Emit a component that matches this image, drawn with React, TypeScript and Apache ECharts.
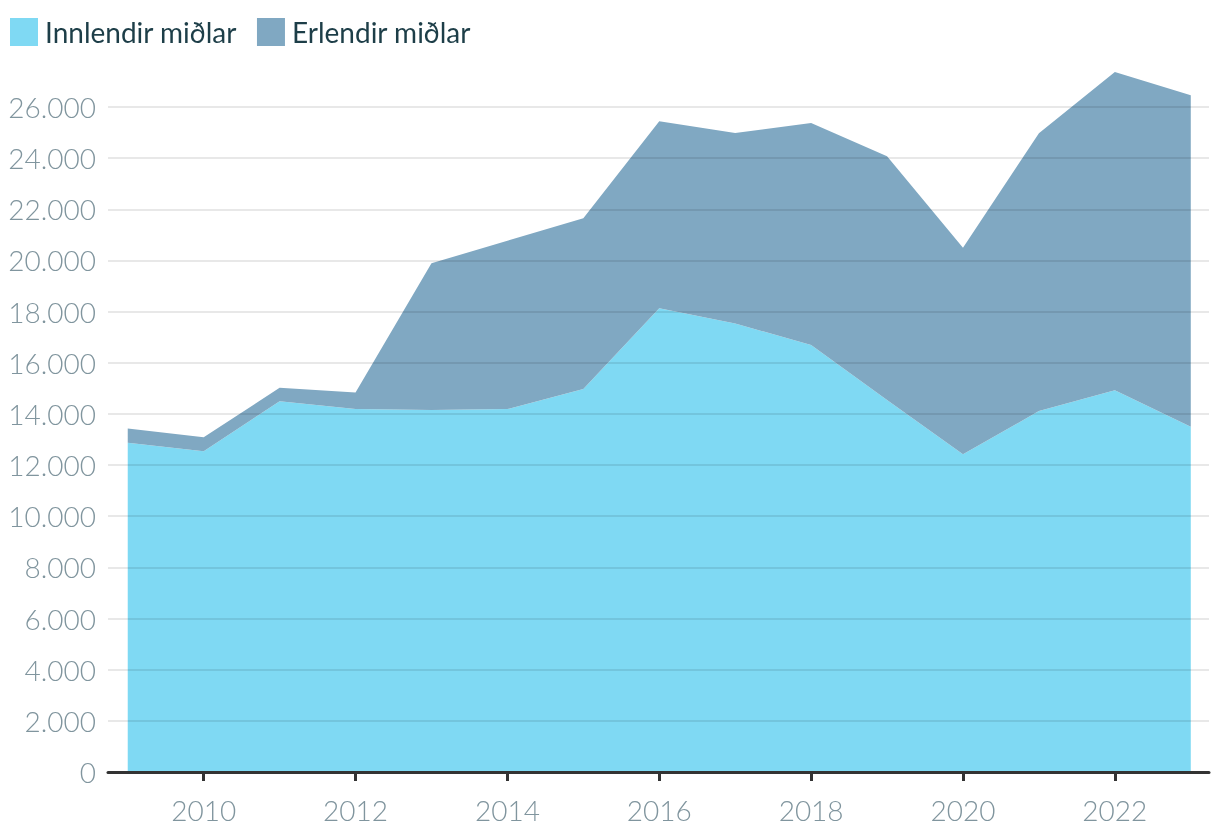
import React, { useEffect, useRef } from "react";
import * as echarts from "echarts";

const years = [2009, 2010, 2011, 2012, 2013, 2014, 2015, 2016, 2017, 2018, 2019, 2020, 2021, 2022, 2023];
const innlendir = [12870, 12540, 14500, 14190, 14150, 14190, 14970, 18130, 17540, 16690, 14540, 12420, 14110, 14930, 13500];
const erlendir = [560, 550, 520, 650, 5740, 6580, 6680, 7310, 7440, 8680, 9530, 8080, 10860, 12440, 12960];
const xTickYears = [2010, 2012, 2014, 2016, 2018, 2020, 2022];
const seriesNames = ["Innlendir miðlar", "Erlendir miðlar"];

const fmt = (v: number) => String(v).replace(/\B(?=(\d{3})+(?!\d))/g, ".");

export default function App() {
  const ref = useRef<HTMLDivElement>(null);
  useEffect(() => {
    if (!ref.current) return;
    const chart = echarts.init(ref.current, undefined, { renderer: "svg" });
    const font = "Lato";
    const mk = (name: string, vals: number[]) => ({
      name,
      type: "line",
      stack: "total",
      clip: false,
      showSymbol: false,
      symbol: "none",
      z: 2,
      lineStyle: { width: 0 },
      areaStyle: { opacity: 1 },
      dimensions: ["v", "year"],
      encode: { x: "year", y: "v" },
      data: years.map((y, i) => [vals[i], y]),
    });
    chart.setOption({
      animation: false,
      color: ["#7fd9f3", "#80a8c2"],
      legend: {
        left: 5,
        top: 13,
        itemWidth: 28,
        itemHeight: 28,
        itemGap: 20,
        icon: "rect",
        textStyle: { fontFamily: font, fontSize: 28, color: "#1d3e48", padding: [0, 0, 0, 2] },
        data: seriesNames,
      },
      grid: { left: 108, right: 11, top: 107, bottom: 68, containLabel: false },
      xAxis: {
        type: "value",
        min: 2008.74,
        max: 2023.24,
        z: 4,
        axisLine: { show: true, lineStyle: { color: "#333333", width: 3 } },
        axisTick: { show: true, length: 9, lineStyle: { color: "#333333", width: 3 }, customValues: xTickYears },
        axisLabel: {
          customValues: xTickYears,
          formatter: (v: number) => String(v),
          fontFamily: font,
          fontWeight: 300,
          fontSize: 28,
          color: "#80959e",
          margin: 24,
        },
        splitLine: { show: false },
      },
      yAxis: {
        type: "value",
        min: 0,
        max: 26000,
        interval: 2000,
        z: 3,
        axisLine: { show: false },
        axisTick: { show: false },
        axisLabel: {
          formatter: (v: number) => fmt(v),
          fontFamily: font,
          fontWeight: 300,
          fontSize: 28,
          color: "#80959e",
          margin: 12,
        },
        splitLine: { show: true, lineStyle: { color: "rgba(0,0,0,0.09)", width: 2 } },
      },
      series: [mk(seriesNames[0], innlendir), mk(seriesNames[1], erlendir)],
    });
    return () => chart.dispose();
  }, []);
  return <div ref={ref} style={{ position: "fixed", left: 0, top: 0, width: 1220, height: 840 }} />;
}
